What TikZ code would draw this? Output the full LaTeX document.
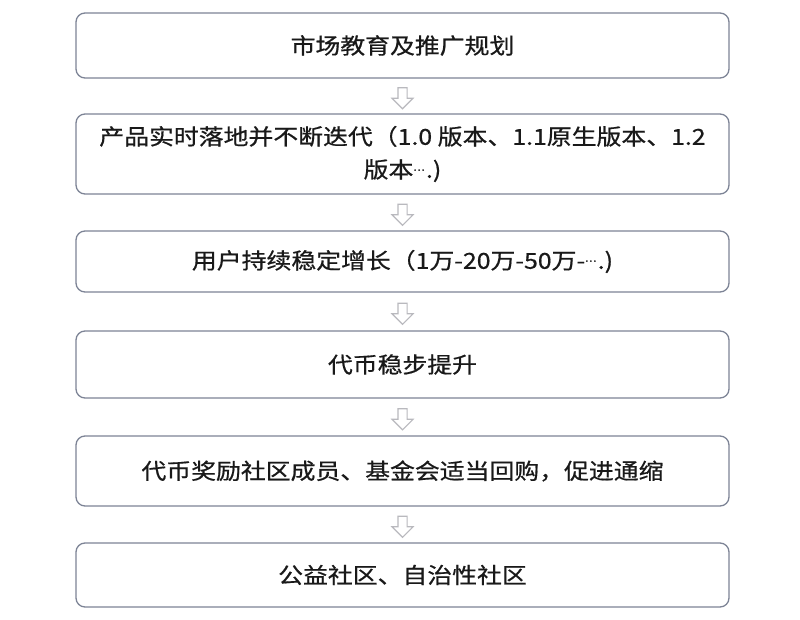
\documentclass[tikz,border=0pt]{standalone}
\usepackage{fontspec}
\setmainfont{Noto Sans CJK SC}[FakeBold=0.6]
\usetikzlibrary{shapes.arrows,calc}
\definecolor{boxline}{RGB}{125,132,150}
\definecolor{arrline}{RGB}{185,185,190}
\definecolor{txt}{RGB}{25,25,25}
\newcommand{\widetxt}[1]{\scalebox{1.13}[1]{#1}}
\newcommand{\middots}{\raisebox{0.32em}{\fontsize{11}{11}\selectfont.\kern0.5pt.\kern0.5pt.}\kern1pt}
\begin{document}
\begin{tikzpicture}[x=1pt,y=1pt,
  stepbox/.style={draw=boxline, line width=1.3pt, rounded corners=9pt, fill=white,
    minimum width=653pt, inner sep=0pt, align=center, text=txt,
    font=\fontsize{22}{33}\selectfont},
  downarr/.style={single arrow, draw=arrline, line width=1.1pt, fill=white,
    shape border rotate=270, inner sep=4pt, single arrow head extend=6pt,
    single arrow head indent=0pt, minimum height=21pt}
]
\useasboundingbox (0,0) rectangle (800,619);
\fill[white] (0,0) rectangle (800,619);
\node[stepbox, minimum height=65pt] (b1) at (402.5,573.5) {\widetxt{市场教育及推广规划}};
\node[stepbox, minimum height=80pt] (b2) at (402.5,465) {\widetxt{产品实时落地并不断迭代（1.0 版本、1.1原生版本、1.2}\\\widetxt{版本\middots.)}};
\node[stepbox, minimum height=61pt] (b3) at (402.5,357.5) {\widetxt{用户持续稳定增长（1万-20万-50万-\middots.)}};
\node[stepbox, minimum height=67pt] (b4) at (402.5,254.5) {\widetxt{代币稳步提升}};
\node[stepbox, minimum height=70pt] (b5) at (402.5,148) {\widetxt{代币奖励社区成员、基金会适当回购，促进通缩}};
\node[stepbox, minimum height=64pt] (b6) at (402.5,44) {\widetxt{公益社区、自治性社区}};
\foreach \a/\b in {b1/b2,b2/b3,b3/b4,b4/b5,b5/b6}{
  \node[downarr] (arr-\a) at ($(\a.south)!0.5!(\b.north)$) {};
}
\end{tikzpicture}
\end{document}
